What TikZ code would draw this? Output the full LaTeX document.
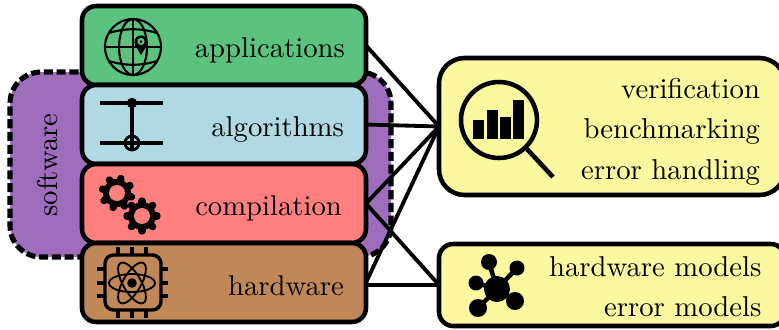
\documentclass[tikz,border=0pt]{standalone}
\usepackage{amsmath}
\usepackage{amssymb}
\usepackage{tikz}

\definecolor{appgreen}{HTML}{5CC280}
\definecolor{algoblue}{HTML}{B0D9E4}
\definecolor{compred}{HTML}{FF7F7F}
\definecolor{hwbrown}{HTML}{C08858}
\definecolor{softpurple}{HTML}{9E6DBC}
\definecolor{checkyellow}{HTML}{FBF8A0}

\newcommand{\px}{.352pt}

\begin{document}
\begin{tikzpicture}[x=.352pt,y=-.352pt,font=\fontsize{10.1}{12}\selectfont]
  \tikzset{layer/.style = {shape=rectangle,draw,line width=1.6pt,rounded corners=5pt,
      minimum width=284*\px,minimum height=79*\px,inner sep=0pt,outer sep=0pt}}
  \tikzset{sidebox/.style = {layer,minimum width=346*\px}}
  \tikzset{tag/.style = {anchor=base east,inner sep=0pt}}
  \tikzset{edge/.style = {line width=1.35pt}}
  \tikzset{icon/.style = {line width=.75pt}}
  \tikzset{boldicon/.style = {line width=1.6pt}}
  \useasboundingbox (0,0) rectangle (779,329);

  \node[layer,fill=softpurple,line width=1.8pt,dash pattern=on 3.2pt off 1.3pt,minimum width=381*\px,minimum height=185*\px,rounded corners=11pt] (soft) at (200.5,164.5) {};
  \node[anchor=base,rotate=90,inner sep=0pt] (softlabel) at (58,165) {software};

  \node[layer,fill=appgreen] (apps) at (224,45.5) {};
  \node[layer,fill=algoblue] (algo) at (224,124.5) {};
  \node[layer,fill=compred] (comp) at (224,203.5) {};
  \node[layer,fill=hwbrown] (hw) at (224,282.5) {};

  \node[tag] (appslabel) at (345.5,57) {applications};
  \node[tag] (algolabel) at (344.5,136) {algorithms};
  \node[tag] (complabel) at (342.5,215) {compilation};
  \node[tag] (hwlabel) at (344.5,295) {hardware};

  \node[sidebox,fill=checkyellow,minimum height=137*\px,rounded corners=9pt] (checks) at (612,126.5) {};
  \node[sidebox,fill=checkyellow,minimum height=82*\px] (models) at (612,285) {};

  \node[tag] (verif) at (760.5,98) {verification};
  \node[tag] (bench) at (760.5,138) {benchmarking};
  \node[tag] (errhand) at (760.5,179) {error handling};
  \node[tag] (hwmodels) at (762,276) {hardware models};
  \node[tag] (errmodels) at (762,316) {error models};

  \coordinate (hwport) at (366,285);
  \foreach \from/\to in {apps.east/checks.west,algo.east/checks.west,comp.east/checks.west,hw.east/checks.west,comp.east/models.west,hwport/models.west}
    \path[edge] (\from) edge (\to);

  % globe
  \draw[icon] (133,47) circle (28);
  \draw[icon] (133,47) ellipse (14 and 28);
  \draw[icon] (133,19) -- (133,75);
  \draw[icon] (105,47) -- (161,47);
  \draw[icon] (109,33) .. controls (125,28) and (141,28) .. (157,33);
  \draw[icon] (109,61) .. controls (125,66) and (141,66) .. (157,61);
  \fill (141,42) circle (6.6);
  \fill (135,45) -- (141,55) -- (147,45) -- cycle;
  \fill[appgreen] (141,41.5) circle (3.6);
  \fill (141,41.5) circle (1.5);

  % two qubit gate
  \draw[line width=1.2pt] (100,103) -- (163,103);
  \draw[line width=1.2pt] (100,143) -- (163,143);
  \draw[line width=1.2pt] (132,103) -- (132,150);
  \fill (132,103) circle (5.2);
  \draw[line width=1pt] (132,143) circle (7);

  % gears
  \foreach \gx/\gy/\turn in {117/193/15,142/216/0}{
    \fill (\gx,\gy) circle (14);
    \foreach \a in {0,45,...,315}
      \draw[line width=2.6pt,line cap=round] (\gx,\gy) -- ++(\a+\turn:15);
    \fill[compred] (\gx,\gy) circle (8);
  }

  % chip with atom
  \draw[line width=1.2pt,rounded corners=3pt] (105,255) rectangle (161,310);
  \foreach \k in {118,132,146}{
    \draw[line width=1.1pt] (\k,247) -- (\k,255);
    \draw[line width=1.1pt] (\k,310) -- (\k,318);
  }
  \foreach \k in {269,283,296}{
    \draw[line width=1.1pt] (97,\k) -- (105,\k);
    \draw[line width=1.1pt] (161,\k) -- (168,\k);
  }
  \foreach \a in {0,60,120}
    \draw[line width=.65pt,rotate around={\a:(132,283)}] (132,283) ellipse (23 and 9);
  \fill (132,283) circle (4.8);

  % magnifier
  \draw[boldicon] (499,120) circle (38);
  \draw[boldicon] (527,149) -- (553,177);
  \fill (473,120) rectangle (484,139);
  \fill (487,110) rectangle (498,139);
  \fill (500,117) rectangle (511,139);
  \fill (513,100) rectangle (524,139);

  % network
  \foreach \nx/\ny/\nr in {489/262/8,517/268/7.5,476/283/7.5,515/301/9,478/308/9}{
    \draw[boldicon] (497,289) -- (\nx,\ny);
    \fill (\nx,\ny) circle (\nr);
  }
  \fill (497,289) circle (13);
\end{tikzpicture}
\end{document}
